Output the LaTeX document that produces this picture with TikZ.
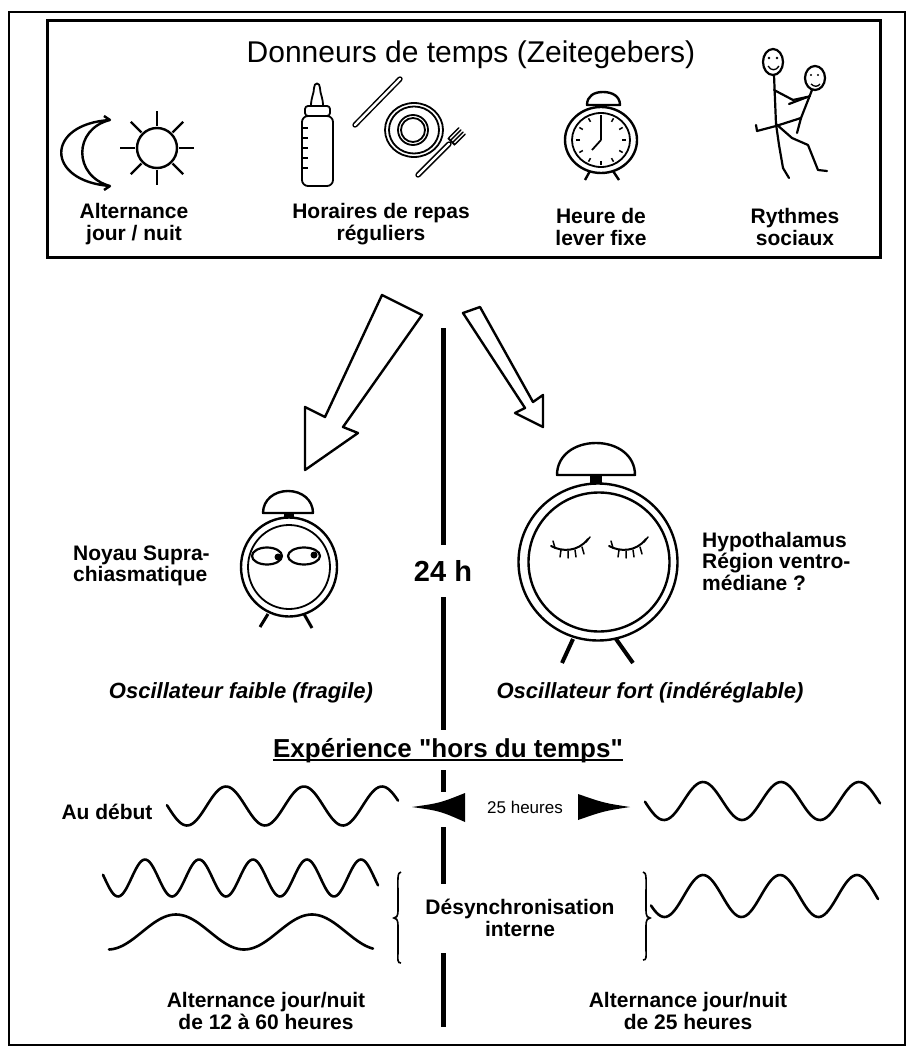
\documentclass[tikz,border=0pt]{standalone}
\usepackage{fontspec}
\setmainfont{Liberation Sans}[Ligatures=TeXOff]
\begin{document}
\begin{tikzpicture}[x=1pt,y=-1pt,
  lbl/.style={font=\fontsize{21}{22}\selectfont\bfseries, align=center, inner sep=0pt},
  lblleft/.style={font=\fontsize{21}{21.5}\selectfont\bfseries, align=left, inner sep=0pt, anchor=west},
  osc/.style={font=\fontsize{22}{22}\selectfont\bfseries\itshape, inner sep=0pt},
  wave/.style={line width=2.6pt, line cap=round, line join=round},
  outl/.style={line width=2.4pt, line join=round},
  thin/.style={line width=1.8pt, line join=round},
  vline/.style={line width=5pt},
  hollow/.style={double, double distance=2.4pt, line width=1.5pt, line cap=round},
  brace/.style={line width=1.6pt},
  stick/.style={line width=2.2pt, line cap=round, line join=round}]
\useasboundingbox (0,0) rectangle (913,1048);
\fill[white] (0,0) rectangle (913,1048);

% frames
\draw[line width=2pt] (9,12) rectangle (905,1045);
\draw[line width=3pt] (47,21) rectangle (880,258);

\node[font=\fontsize{30}{30}\selectfont, anchor=base, inner sep=0pt] (title) at (471,63) {Donneurs de temps (Zeitegebers)};

% ---- moon and sun
\draw[outl] (110,120) .. controls (45,124) and (45,181) .. (110,186) .. controls (73,176) and (73,129) .. cycle;
\draw[outl] (110,120) -- (104,116) (110,186) -- (104,190);
\draw[outl] (157,148) circle[radius=20];
\begin{scope}[shift={(157,148)}]
  \foreach \a in {0,45,...,315} \draw[outl] (\a:22) -- (\a:37);
\end{scope}

% ---- bottle, knife, plate, fork
\draw[thin, rounded corners=6pt] (302,116) rectangle (333,186);
\draw[thin, rounded corners=3pt] (305,106) rectangle (330,116);
\draw[thin] (311,106) .. controls (311,97) and (314,94) .. (314,88) .. controls (314,82) and (320,82) .. (320,88) .. controls (320,94) and (323,97) .. (323,106);
\foreach \y in {128,138,...,168} \draw[line width=1.4pt] (303,\y) -- (308,\y);
\draw[hollow] (355,125) -- (400,79);
\draw[thin] (414,130) ellipse[x radius=29, y radius=27];
\draw[thin] (414,130) ellipse[x radius=25, y radius=23.5];
\draw[thin] (413,130) circle[radius=15];
\draw[thin] (413,130) circle[radius=12];
\draw[hollow] (418,175) -- (449,144);
\foreach \o in {-4.5,-1.5,1.5,4.5}
  \draw[line width=1.5pt, line cap=round] ({452+0.7*\o},{141+0.71*\o}) -- ++(10,-10);
\draw[line width=1.8pt] (448,138) -- (455,145);

% ---- alarm clock (small)
\draw[outl] (601,140) ellipse[x radius=36, y radius=33];
\draw[thin] (601,140) ellipse[x radius=29, y radius=27];
\draw[outl] (587,105) .. controls (587,96) and (594,92) .. (603,92) .. controls (612,92) and (620,96) .. (620,105) -- cycle;
\fill (598,105) rectangle (606,108);
\draw[line width=2.4pt] (590,171) -- (585,180) (613,171) -- (619,180);
\begin{scope}[shift={(601,140)}]
  \foreach \a in {0,30,...,330} \draw[line width=1.5pt] (\a:21) -- (\a:25);
  \draw[line width=1.8pt] (0,0) -- (0,-24);
  \draw[line width=1.8pt] (0,0) -- (-9,10);
\end{scope}

% ---- two figures
\draw[stick] (773,62) ellipse[x radius=10, y radius=13];
\draw[line width=1.3pt] (768,66) .. controls (771,71) and (776,71) .. (779,66);
\fill (769,58) circle[radius=1.3] (777,58) circle[radius=1.3];
\draw[stick] (815,78) ellipse[x radius=10, y radius=12];
\draw[line width=1.3pt] (811,84) .. controls (814,87) and (818,87) .. (820,84);
\fill (811,75) circle[radius=1.2] (818,75) circle[radius=1.2];
\draw[stick] (774,75) -- (776,124);
\draw[stick] (776,124) -- (779,145) -- (783,168) -- (789,178);
\draw[stick] (776,124) -- (792,138) -- (808,145) -- (818,170) -- (827,171);
\draw[stick] (774,90) -- (793,100) -- (807,97);
\draw[stick] (812,90) -- (801,118);
\draw[stick] (810,96) -- (789,104);
\draw[stick] (801,118) -- (776,126) -- (757,131) -- (756,125);
\draw[stick] (801,118) -- (797,133);

% ---- labels of the top box
\node[lbl] (l1) at (134,224) {Alternance\\jour / nuit};
\node[lbl] (l2) at (381,224) {Horaires de repas\\réguliers};
\node[lbl] (l3) at (601,227) {Heure de\\lever fixe};
\node[lbl] (l4) at (795,227) {Rythmes\\sociaux};

% ---- hollow arrows
\draw[outl] (382,295) -- (422,315) -- (343,427) -- (358,433) -- (305,470) -- (305,407) -- (325,417) -- cycle;
\draw[outl] (463,313) -- (480,307) -- (533,402) -- (543,395) -- (543,427) -- (515,413) -- (525,408) -- cycle;

% ---- central axis
\coordinate (a0) at (443,328); \coordinate (a1) at (443,545);
\coordinate (a2) at (443,597); \coordinate (a3) at (443,730);
\coordinate (a4) at (443,770); \coordinate (a5) at (443,792);
\coordinate (a6) at (443,827); \coordinate (a7) at (443,884);
\coordinate (a8) at (443,953); \coordinate (a9) at (443,1027);
\draw[vline] (a0) -- (a1) (a2) -- (a3) (a4) -- (a5) (a6) -- (a7) (a8) -- (a9);
\node[font=\fontsize{29}{29}\selectfont\bfseries, inner sep=0pt] (h24) at (443,571) {24 h};

% ---- weak oscillator clock
\draw[outl] (289,567) ellipse[x radius=48, y radius=49.5];
\draw[thin] (289,567) ellipse[x radius=41, y radius=42];
\draw[outl] (263,513) .. controls (263,500) and (274,491) .. (288,491) .. controls (302,491) and (313,500) .. (313,513) -- cycle;
\fill (284,513) rectangle (294,518);
\draw[line width=3pt] (268,614) -- (260,627) (304,614) -- (312,628);
\draw[line width=2.2pt] (267,556) ellipse[x radius=15, y radius=8.5];
\draw[line width=2.2pt] (304,556) ellipse[x radius=16, y radius=8.5];
\fill (278,557) circle[radius=3.5] (314,555) circle[radius=3.5];
\node[lblleft] (nsc) at (73,566) {Noyau Supra-\\chiasmatique};

% ---- strong oscillator clock
\draw[outl] (598,562) ellipse[x radius=79.5, y radius=78.5];
\draw[outl] (599,562) ellipse[x radius=70.5, y radius=69.5];
\draw[outl] (557,475) .. controls (557,455) and (575,443) .. (596,443) .. controls (617,443) and (635,455) .. (635,475) -- cycle;
\fill (590,475) rectangle (602,484);
\draw[line width=4pt] (573,639) -- (562,663) (616,639) -- (633,663);
\foreach \dx in {0,58} {
  \begin{scope}[xshift=\dx]
    \draw[line width=2pt, line cap=round] (551,546) .. controls (562,552) and (578,552) .. (588,539);
    \draw[line width=1.5pt, line cap=round] (555,548) -- (553,541)
      (561,550) -- (560,557) (568,551) -- (568,558) (575,550) -- (576,557) (582,547) -- (584,554)
      (586,542) -- (590,537);
  \end{scope}
}
\node[lblleft] (hyp) at (702,561) {Hypothalamus\\Région ventro-\\médiane ?};

\node[osc] (oweak) at (241,693) {Oscillateur faible (fragile)};
\node[osc] (ostrong) at (650,693) {Oscillateur fort (indéréglable)};

% ---- "hors du temps" experiment
\node[font=\fontsize{26}{26}\selectfont\bfseries, inner sep=0pt, anchor=base] (exp) at (448,757) {Expérience "hors du temps"};
\draw[line width=2pt] ([yshift=-2.8pt]exp.base west) -- ([yshift=-2.8pt]exp.base east);

\node[lbl] (debut) at (107,812) {Au début};
\draw[wave] plot[domain=167:398, samples=120, smooth] (\x, {806-19.5*cos((\x-226)/78*360)});
\draw[wave] plot[domain=645:880, samples=120, smooth] (\x, {801-19*cos((\x-703)/78*360)});

\node[font=\fontsize{17}{17}\selectfont, inner sep=0pt] (h25) at (525,807) {25 heures};
\fill (412,807) .. controls (440,803) .. (465,793) -- (465,822) .. controls (440,811) .. cycle;
\fill (630,807) .. controls (604,803) .. (578,794) -- (578,820) .. controls (604,811) .. cycle;

\draw[wave] plot[domain=103:378, samples=160, smooth] (\x, {878-18.5*cos((\x-145)/54*360)});
\draw[wave] plot[domain=109:373, samples=120, smooth] (\x, {932-17.5*cos((\x-176)/136*360)});
\draw[wave] plot[domain=651:878, samples=120, smooth] (\x, {896-21*cos((\x-703)/77*360)});

\draw[brace] (401,872) .. controls (397,872) and (398,880) .. (398,895) -- (398,910)
  .. controls (398,917) and (396,918) .. (394,918) .. controls (396,918) and (398,919) .. (398,926)
  -- (398,950) .. controls (398,960) and (397,963) .. (401,963);
\draw[brace] (643,872) .. controls (647,872) and (646,880) .. (646,895) -- (646,910)
  .. controls (646,917) and (648,918) .. (650,918) .. controls (648,918) and (646,919) .. (646,926)
  -- (646,948) .. controls (646,957) and (647,960) .. (643,960);

\node[lbl] (desync) at (520,918) {Désynchronisation\\interne};

\node[lbl] (bl) at (266,1011) {Alternance jour/nuit\\de 12 à 60 heures};
\node[lbl] (br) at (688,1011) {Alternance jour/nuit\\de 25 heures};
\end{tikzpicture}
\end{document}
